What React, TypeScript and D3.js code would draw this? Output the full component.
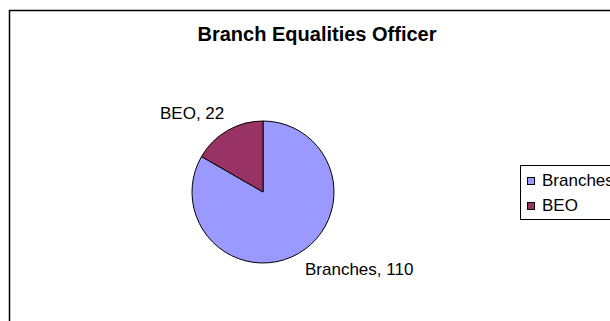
import React from "react";
import * as d3 from "d3";

const categories = ["Branches", "BEO"];
const values = [110, 22];
const colors = ["#9999FF", "#993366"];
const title = "Branch Equalities Officer";
const topText = "(Question 3)";

export default function App() {
  const W = 610, H = 321;
  const cx = 263, cy = 192, r = 71;
  const data = categories.map((c, i) => ({ c, v: values[i], col: colors[i] }));
  const pie = d3.pie<any>().sort(null).value((d: any) => d.v);
  const arcs = pie(data);
  const arc = d3.arc<any>().innerRadius(0).outerRadius(r);
  const font = "'Liberation Sans', Arial, sans-serif";
  const labelPos = [
    { x: 305, y: 275, anchor: "start" },
    { x: 160, y: 119, anchor: "start" },
  ];
  return (
    <svg width={W} height={H} style={{ position: "absolute", left: 0, top: 0, background: "#fff" }}>
      <rect x={0} y={0} width={W} height={H} fill="#fff" />
      <text x={319} y={-3} textAnchor="middle" fontFamily={font} fontSize={17} fontWeight="bold" fill="#000">{topText}</text>
      <rect x={9.5} y={10.5} width={620} height={330} fill="#fff" stroke="#000" strokeWidth={1.5} />
      <text x={317} y={41} textAnchor="middle" fontFamily={font} fontSize={20} fontWeight="bold" fill="#000">{title}</text>
      <g transform={`translate(${cx},${cy})`}>
        {arcs.map((a, i) => (
          <path key={i} d={arc(a) as string} fill={a.data.col} stroke="#000" strokeWidth={1} />
        ))}
      </g>
      {arcs.map((a, i) => (
        <text key={i} x={labelPos[i].x} y={labelPos[i].y} fontFamily={font} fontSize={17} fill="#000">
          {`${a.data.c}, ${a.data.v}`}
        </text>
      ))}
      <rect x={520.5} y={165.5} width={110} height={54} fill="#fff" stroke="#000" strokeWidth={1} />
      {data.map((d, i) => (
        <g key={i} transform={`translate(527,${177 + i * 25})`}>
          <rect x={0.5} y={0.5} width={7} height={7} fill={d.col} stroke="#000" strokeWidth={1} />
          <text x={15} y={9} fontFamily={font} fontSize={17} fill="#000">{d.c}</text>
        </g>
      ))}
    </svg>
  );
}
